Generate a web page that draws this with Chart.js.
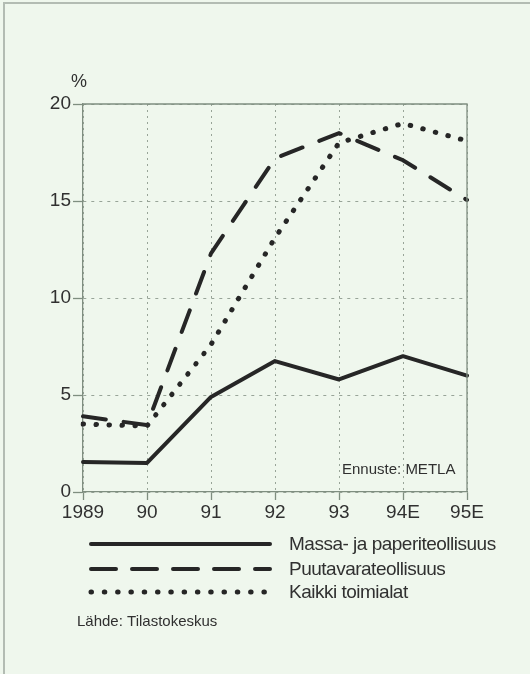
<!DOCTYPE html>
<html>
<head>
<meta charset="utf-8">
<script src="https://cdn.jsdelivr.net/npm/chart.js@4/dist/chart.umd.min.js"></script>
<style>
  html, body { margin: 0; padding: 0; background: #eef6ec; }
  #wrap { width: 530px; height: 674px; position: relative; }
  canvas { display: block; }
</style>
</head>
<body>
<div id="wrap"><canvas id="c" width="530" height="674"></canvas></div>
<script>
// ---- Data ----
const categories = ['1989', '90', '91', '92', '93', '94E', '95E'];
const massaJaPaperi = [1.55, 1.5, 4.9, 6.75, 5.8, 7.0, 6.0];
const puutavara = [3.9, 3.45, 12.3, 17.2, 18.5, 17.1, 15.05];
const kaikkiToimialat = [3.5, 3.4, 7.6, 13.1, 18.0, 19.0, 18.1];
const seriesNames = ['Massa- ja paperiteollisuus', 'Puutavarateollisuus', 'Kaikki toimialat'];
const yTicks = [0, 5, 10, 15, 20];
const unitLabel = '%';
const forecastNote = 'Ennuste: METLA';
const sourceNote = 'Lähde: Tilastokeskus';

const FONT = '"Liberation Sans", Arial, Helvetica, sans-serif';
const INK = '#262626';
const TEXT = '#303030';
const AXIS = '#7f8e80';
const GRID = '#98a498';

const frame = {
  id: 'frame',
  beforeDraw(chart) {
    const ctx = chart.ctx;
    ctx.save();
    ctx.fillStyle = '#eff7ed';
    ctx.fillRect(0, 0, chart.width, chart.height);
    // page edges
    ctx.strokeStyle = '#b3bcb3';
    ctx.lineWidth = 2;
    ctx.beginPath();
    ctx.moveTo(4, 674); ctx.lineTo(4, 3); ctx.lineTo(530, 3);
    ctx.stroke();
    ctx.restore();
  },
  afterDatasetsDraw(chart) {
    const ctx = chart.ctx;
    const a = chart.chartArea;
    ctx.save();
    // top and right frame
    ctx.strokeStyle = AXIS;
    ctx.lineWidth = 1.3;
    ctx.beginPath();
    ctx.moveTo(a.left, a.top); ctx.lineTo(a.right, a.top); ctx.lineTo(a.right, a.bottom);
    ctx.stroke();
    // unit label
    ctx.fillStyle = TEXT;
    ctx.font = '18px ' + FONT;
    ctx.textAlign = 'center';
    ctx.textBaseline = 'middle';
    ctx.fillText(unitLabel, 79, 82);
    // forecast note
    ctx.font = '15px ' + FONT;
    ctx.textAlign = 'left';
    ctx.textBaseline = 'alphabetic';
    ctx.fillText(forecastNote, 342, 474);
    // legend
    const ys = [544, 569, 592];
    chart.data.datasets.forEach((ds, i) => {
      ctx.save();
      ctx.strokeStyle = ds.borderColor;
      ctx.lineWidth = ds.borderWidth;
      ctx.lineCap = ds.borderCapStyle || 'butt';
      ctx.setLineDash(ds.legendDash || []);
      ctx.beginPath();
      ctx.moveTo(91, ys[i]); ctx.lineTo(270, ys[i]);
      ctx.stroke();
      ctx.restore();
      ctx.save();
      ctx.fillStyle = TEXT;
      ctx.font = '19px ' + FONT;
      ctx.letterSpacing = '-0.5px';
      ctx.textBaseline = 'middle';
      ctx.fillText(ds.label, 289, ys[i] + 1);
      ctx.restore();
    });
    ctx.font = '15px ' + FONT;
    ctx.textBaseline = 'alphabetic';
    ctx.fillText(sourceNote, 77, 626);
    ctx.restore();
  }
};

new Chart(document.getElementById('c'), {
  type: 'line',
  data: {
    labels: categories,
    datasets: [
      { label: seriesNames[0], data: massaJaPaperi, borderColor: INK, borderWidth: 4,
        borderCapStyle: 'round', borderJoinStyle: 'round', legendDash: [] },
      { label: seriesNames[1], data: puutavara, borderColor: INK, borderWidth: 4,
        borderDash: [23, 18], borderCapStyle: 'round', legendDash: [25, 16] },
      { label: seriesNames[2], data: kaikkiToimialat, borderColor: INK, borderWidth: 5,
        borderDash: [0.5, 12.5], borderCapStyle: 'round', legendDash: [0.5, 12.8] }
    ]
  },
  options: {
    responsive: false,
    animation: false,
    events: [],
    layout: { padding: { left: 0, top: 104, right: 63, bottom: 142 } },
    elements: { point: { radius: 0 }, line: { tension: 0, fill: false } },
    plugins: { legend: { display: false }, tooltip: { enabled: false } },
    scales: {
      x: {
        offset: false,
        afterFit(s) { s.height = 40; },
        grid: { color: GRID, lineWidth: 1, tickLength: 8, tickColor: AXIS, tickWidth: 1.3, tickBorderDash: [] },
        border: { display: true, color: AXIS, width: 1.3, dash: [2, 4] },
        ticks: { color: TEXT, font: { family: FONT, size: 19 }, padding: 1, maxRotation: 0, autoSkip: false }
      },
      y: {
        min: 0, max: 20,
        afterFit(s) { s.width = 83; },
        afterBuildTicks(s) { s.ticks = yTicks.map(v => ({ value: v })); },
        grid: { color: GRID, lineWidth: 1, tickLength: 10, tickColor: AXIS, tickWidth: 1.3, tickBorderDash: [] },
        border: { display: true, color: AXIS, width: 1.3, dash: [3, 5] },
        ticks: { color: TEXT, font: { family: FONT, size: 19 }, padding: 2 }
      }
    }
  },
  plugins: [frame]
});
</script>
</body>
</html>
